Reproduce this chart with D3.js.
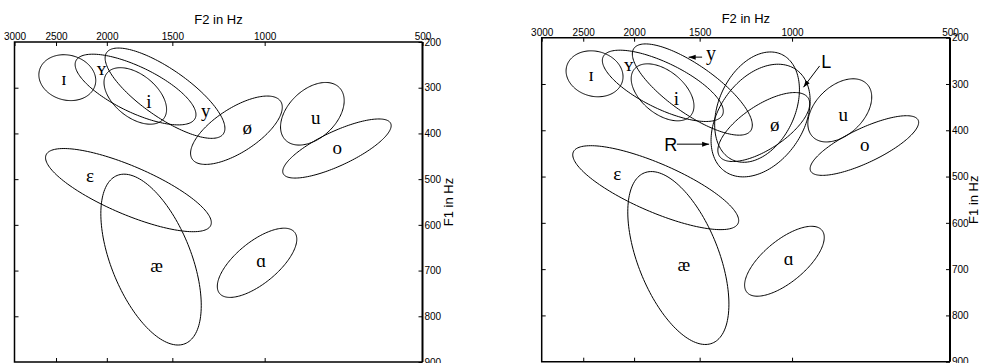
<!DOCTYPE html>
<html><head><meta charset="utf-8">
<script src="https://cdn.jsdelivr.net/npm/d3@7"></script>
<style>body{margin:0;background:#fff}svg{display:block}</style>
</head><body>
<svg id="c" width="985" height="363"></svg>
<script>
// ---------- data ----------
const f2Ticks = [3000, 2500, 2000, 1500, 1000, 500];
const f2InnerTicks = [2500, 2000, 1500, 1000];
const f1Ticks = [200, 300, 400, 500, 600, 700, 800, 900];
const f1InnerTicks = [300, 400, 500, 600, 700, 800];

const vowels   = ["ɪ", "ʏ", "i", "y", "ø", "u", "o", "ɛ", "æ", "ɑ"];
// ellipse centre (Hz)
const centerF2 = [2379, 1763, 1765, 1549, 1132, 811, 728, 1819, 1647, 1034];
const centerF1 = [278, 304, 318, 312, 393, 357, 433, 524, 676, 683];
// end point of the major axis (Hz)
const majorF2  = [2105, 1357, 1559, 1199, 932, 720, 575, 1267, 1419, 877];
const majorF1  = [294, 367, 368, 401, 330, 300, 378, 601, 860, 616];
// minor / major axis ratio
const axisRatio = [0.78, 0.344, 0.588, 0.336, 0.416, 0.64, 0.289, 0.269, 0.44, 0.43];
// vowel label positions (Hz)
const labelF2  = [2414, 2049, 1662, 1295, 1079, 799, 727, 2153, 1607, 1015];
const labelF1  = [294, 272, 345, 365, 402, 379, 445, 507, 703, 692];

// extra ellipses in the right panel
const extraNames    = ["L", "R"];
const extraCenterF2 = [1166, 1148];
const extraCenterF1 = [350, 379];
const extraMajorF2  = [1047, 982];
const extraMajorF1  = [236, 269];
const extraRatio    = [0.655, 0.677];

// annotations with arrows in the right panel
const annText    = ["y", "L", "R"];
const annTextF2  = [1458, 880, 1753];
const annTextF1  = [248, 266, 445];
const annFromF2  = [1484, 886, 1658];
const annFromF1  = [242, 261, 430];
const annToF2    = [1574, 951, 1439];
const annToF1    = [242, 307, 430];

// ---------- drawing ----------
const svg = d3.select("#c");
svg.append("defs").append("marker")
  .attr("id", "arr").attr("markerUnits", "userSpaceOnUse")
  .attr("markerWidth", 8).attr("markerHeight", 6)
  .attr("refX", 7).attr("refY", 3).attr("orient", "auto")
  .append("path").attr("d", "M0,0.5L7,3L0,5.5Z").attr("fill", "#000");

const panels = [
  {left: 14.5, right: 422.5, top: 42, bottom: 362, titleY: 24.3, f1X: 453, extras: false},
  {left: 541.7, right: 950, top: 37.7, bottom: 361.7, titleY: 22.7, f1X: 978, extras: true}
];

function ellipsePath(x, y, cF2, cF1, mF2, mF1, r) {
  const cx = x(cF2), cy = y(cF1);
  const ax = x(mF2) - cx, ay = y(mF1) - cy;
  const bx = -ay * r, by = ax * r;
  const pts = d3.range(160).map(i => {
    const t = i / 160 * 2 * Math.PI;
    return [cx + ax * Math.cos(t) + bx * Math.sin(t), cy + ay * Math.cos(t) + by * Math.sin(t)];
  });
  return d3.line().curve(d3.curveLinearClosed)(pts);
}

function styleAxis(g) {
  g.select(".domain").remove();
  g.attr("font-family", "'Liberation Sans', Arial, sans-serif").attr("font-size", 10);
  g.selectAll(".tick line").attr("stroke", "#000").attr("stroke-width", 1);
  g.selectAll(".tick text").attr("fill", "#000");
}

panels.forEach(P => {
  const g = svg.append("g");
  const x = d3.scaleLog().domain([3000, 500]).range([P.left, P.right]);
  const y = d3.scaleLinear().domain([200, 900]).range([P.top, P.bottom]);

  g.append("g").attr("transform", `translate(0,${P.top})`)
    .call(d3.axisTop(x).tickValues(f2Ticks).tickFormat(d3.format("d"))
      .tickSizeInner(-4).tickSizeOuter(0).tickPadding(2))
    .call(styleAxis);
  g.append("g").attr("transform", `translate(0,${P.bottom})`)
    .call(d3.axisBottom(x).tickValues(f2InnerTicks).tickFormat(() => "")
      .tickSizeInner(-4).tickSizeOuter(0))
    .call(styleAxis);
  g.append("g").attr("transform", `translate(${P.left},0)`)
    .call(d3.axisLeft(y).tickValues(f1InnerTicks).tickFormat(() => "")
      .tickSizeInner(-4).tickSizeOuter(0))
    .call(styleAxis);
  g.append("g").attr("transform", `translate(${P.right},0)`)
    .call(d3.axisRight(y).tickValues(f1Ticks).tickFormat(d3.format("d"))
      .tickSizeInner(-4).tickSizeOuter(0).tickPadding(2))
    .call(styleAxis);

  // frame
  g.append("path")
    .attr("d", `M${P.right},${P.bottom}H${P.left}V${P.top}H${P.right}`)
    .attr("fill", "none").attr("stroke", "#000").attr("stroke-width", 1.5);
  g.append("line").attr("x1", P.right).attr("x2", P.right)
    .attr("y1", P.top).attr("y2", P.bottom)
    .attr("stroke", "#000").attr("stroke-width", 2);

  // titles
  g.append("text").attr("x", (P.left + P.right) / 2).attr("y", P.titleY)
    .attr("text-anchor", "middle")
    .attr("font-family", "'Liberation Sans', Arial, sans-serif").attr("font-size", 13)
    .text("F2 in Hz");
  g.append("text")
    .attr("transform", `translate(${P.f1X},${(P.top + P.bottom) / 2}) rotate(-90)`)
    .attr("text-anchor", "middle")
    .attr("font-family", "'Liberation Sans', Arial, sans-serif").attr("font-size", 13)
    .text("F1 in Hz");

  // ellipses
  vowels.forEach((v, i) => {
    g.append("path")
      .attr("d", ellipsePath(x, y, centerF2[i], centerF1[i], majorF2[i], majorF1[i], axisRatio[i]))
      .attr("fill", "none").attr("stroke", "#000").attr("stroke-width", 1);
  });
  if (P.extras) {
    extraNames.forEach((n, i) => {
      g.append("path")
        .attr("d", ellipsePath(x, y, extraCenterF2[i], extraCenterF1[i], extraMajorF2[i], extraMajorF1[i], extraRatio[i]))
        .attr("fill", "none").attr("stroke", "#000").attr("stroke-width", 1);
    });
  }

  // vowel labels
  vowels.forEach((v, i) => {
    if (P.extras && v === "y") return;
    g.append("text").attr("x", x(labelF2[i])).attr("y", y(labelF1[i]))
      .attr("text-anchor", "middle")
      .attr("font-family", "'Liberation Serif', 'Times New Roman', serif").attr("font-size", 19)
      .text(v);
  });

  if (P.extras) {
    annText.forEach((t, i) => {
      g.append("line")
        .attr("x1", x(annFromF2[i])).attr("y1", y(annFromF1[i]))
        .attr("x2", x(annToF2[i])).attr("y2", y(annToF1[i]))
        .attr("stroke", "#000").attr("stroke-width", 1)
        .attr("marker-end", "url(#arr)");
      const serif = t === "y";
      g.append("text").attr("x", x(annTextF2[i])).attr("y", y(annTextF1[i]))
        .attr("font-family", serif ? "'Liberation Serif', serif" : "'Liberation Sans', Arial, sans-serif")
        .attr("font-size", serif ? 20 : 18)
        .text(t);
    });
  }
});
</script>
</body></html>
